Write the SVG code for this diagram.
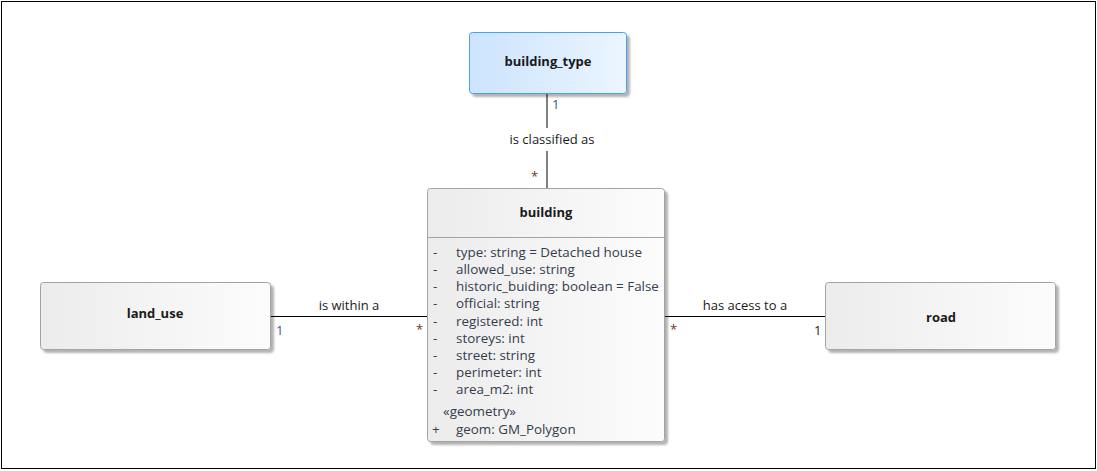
<svg xmlns="http://www.w3.org/2000/svg" width="1097" height="471" viewBox="0 0 1097 471">
<style>
text{font-family:"Open Sans","Noto Sans","Liberation Sans",sans-serif;font-size:13px;fill:#1a1a1a}
.title{font-weight:bold;text-anchor:middle}
.attr{fill:#353d4c;font-size:13.4px}
.one{fill:#2a5d8a}
.star{fill:#6a3a20}
.lbl{text-anchor:middle}
.box{stroke:#a3a3a3;stroke-width:1}
.conn{stroke:#000;stroke-width:1;fill:none}
</style>
<defs>
<linearGradient id="gGray" x1="0" y1="0" x2="1" y2="0">
<stop offset="0" stop-color="#ececec"/>
<stop offset="1" stop-color="#fcfcfc"/>
</linearGradient>
<linearGradient id="gBlue" x1="0" y1="0" x2="1" y2="0">
<stop offset="0" stop-color="#cce4fe"/>
<stop offset="1" stop-color="#ebf5ff"/>
</linearGradient>
<filter id="sh" x="-10%" y="-10%" width="130%" height="130%">
<feGaussianBlur in="SourceAlpha" stdDeviation="1.2"/>
<feOffset dx="3" dy="3" result="b"/>
<feComponentTransfer><feFuncA type="linear" slope="0.3"/></feComponentTransfer>
<feMerge><feMergeNode/><feMergeNode in="SourceGraphic"/></feMerge>
</filter>
</defs>
<rect x="1.5" y="1.5" width="1094" height="467" fill="#fff" stroke="#000"/>

<g id="connectors">
<line class="conn" x1="547" y1="94" x2="547" y2="128"/>
<line class="conn" x1="547" y1="151" x2="547" y2="188"/>
<text class="lbl" x="552" y="144">is classified as</text>
<text class="one" x="552" y="109">1</text>
<text class="star" x="531" y="181">*</text>

<line class="conn" x1="271" y1="316.5" x2="427" y2="316.5"/>
<text class="lbl" x="349" y="310">is within a</text>
<text class="one" x="276" y="335">1</text>
<text class="star" x="416" y="334">*</text>

<line class="conn" x1="665" y1="316.5" x2="825" y2="316.5"/>
<text class="lbl" x="745" y="310">has acess to a</text>
<text class="star" x="670" y="334">*</text>
<text x="814" y="335">1</text>
</g>

<g id="building_type">
<rect x="469.5" y="32.5" width="157" height="61" rx="3" fill="url(#gBlue)" stroke="#4c9ffb" filter="url(#sh)"/>
<text class="title" x="548" y="66">building_type</text>
</g>

<g id="land_use">
<rect class="box" x="40.5" y="282.5" width="230" height="67" rx="3" fill="url(#gGray)" filter="url(#sh)"/>
<text class="title" x="155" y="318">land_use</text>
</g>

<g id="road">
<rect class="box" x="825.5" y="282.5" width="230" height="67" rx="3" fill="url(#gGray)" filter="url(#sh)"/>
<text class="title" x="941" y="322">road</text>
</g>

<g id="building">
<rect class="box" x="427.5" y="188.5" width="237" height="253" rx="3" fill="url(#gGray)" filter="url(#sh)"/>
<line x1="428" y1="237.5" x2="664" y2="237.5" stroke="#a3a3a3"/>
<text class="title" x="546" y="217">building</text>
<text class="attr" x="433" y="257">-</text><text class="attr" x="456" y="257">type: string = Detached house</text>
<text class="attr" x="433" y="274">-</text><text class="attr" x="456" y="274">allowed_use: string</text>
<text class="attr" x="433" y="291">-</text><text class="attr" x="456" y="291">historic_buiding: boolean = False</text>
<text class="attr" x="433" y="308">-</text><text class="attr" x="456" y="308">official: string</text>
<text class="attr" x="433" y="326">-</text><text class="attr" x="456" y="326">registered: int</text>
<text class="attr" x="433" y="343">-</text><text class="attr" x="456" y="343">storeys: int</text>
<text class="attr" x="433" y="360">-</text><text class="attr" x="456" y="360">street: string</text>
<text class="attr" x="433" y="377">-</text><text class="attr" x="456" y="377">perimeter: int</text>
<text class="attr" x="433" y="394">-</text><text class="attr" x="456" y="394">area_m2: int</text>
<text class="attr" x="443" y="416">«geometry»</text>
<text class="attr" x="432" y="434">+</text><text class="attr" x="456" y="434">geom: GM_Polygon</text>
</g>
</svg>
